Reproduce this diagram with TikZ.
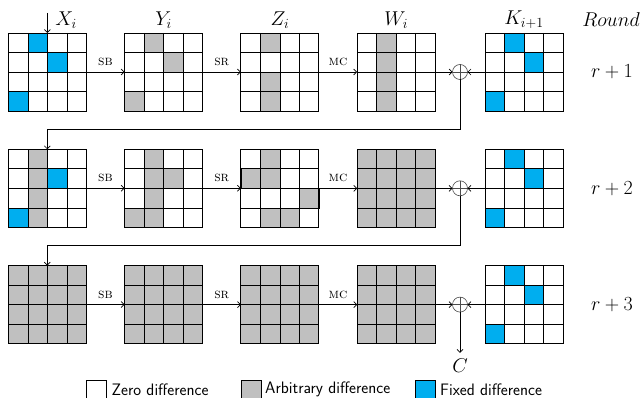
\RequirePackage{fix-cm}
\documentclass[tikz,border=0pt]{standalone}
\usepackage{fontspec}
\usetikzlibrary{calc,arrows.meta}
\definecolor{fixblue}{HTML}{00AEEF}
\definecolor{arbgray}{HTML}{C0C0C0}
\tikzset{
 gridbox/.style={draw, line width=0.9pt, minimum size=78pt, inner sep=0pt, outer sep=0pt},
 cellline/.style={line width=0.6pt},
 arr/.style={line width=0.7pt, -{Straight Barb[length=3pt,width=6pt]}},
 oplab/.style={font=\fontsize{14}{16}\selectfont\scshape, inner sep=0pt},
 mathlab/.style={font=\fontsize{20}{24}\selectfont, inner sep=0pt},
 xorc/.style={circle, draw=black!70, line width=0.6pt, minimum size=15pt, inner sep=0pt, outer sep=0pt},
 xorline/.style={draw=black!70, line width=0.6pt},
 legbox/.style={draw, line width=0.6pt, minimum size=20pt, inner sep=0pt},
 legtext/.style={font=\fontsize{16.6}{19}\selectfont\sffamily, anchor=west, inner sep=0pt}
}
\newcommand\gridat[4]{%
 \node[gridbox, fill=#4] (#1) at (#2+39,#3+39) {};
 \foreach \k in {1,2,3}{
   \draw[cellline] ($(#1.north west)+(\k*19.5,0)$) -- ($(#1.south west)+(\k*19.5,0)$);
   \draw[cellline] ($(#1.north west)+(0,\k*19.5)$) -- ($(#1.north east)+(0,\k*19.5)$);
 }}
\newcommand\cellfill[4]{%
 \draw[cellline, fill=#4] ($(#1.north west)+(#2*19.5,#3*19.5)$) rectangle ++(19.5,19.5);}
\newcommand\gridborder[1]{\draw[line width=0.9pt] (#1.north west) rectangle (#1.south east);}
\begin{document}
\begin{tikzpicture}[x=1pt,y=-1pt]
\useasboundingbox (0,0) rectangle (642,398);
% ---------- row 1 ----------
\gridat{x1}{8.3}{33}{white}
\foreach \c/\r in {1/0,2/1,0/3} {\cellfill{x1}{\c}{\r}{fixblue}}
\gridborder{x1}
\gridat{y1}{124.6}{33}{white}
\foreach \c/\r in {1/0,2/1,0/3} {\cellfill{y1}{\c}{\r}{arbgray}}
\gridborder{y1}
\gridat{z1}{240.9}{33}{white}
\foreach \c/\r in {1/0,1/2,1/3} {\cellfill{z1}{\c}{\r}{arbgray}}
\gridborder{z1}
\gridat{w1}{357.2}{33}{white}
\foreach \c/\r in {1/0,1/1,1/2,1/3} {\cellfill{w1}{\c}{\r}{arbgray}}
\gridborder{w1}
\gridat{k1}{485}{33}{white}
\foreach \c/\r in {1/0,2/1,0/3} {\cellfill{k1}{\c}{\r}{fixblue}}
\gridborder{k1}
% ---------- row 2 ----------
\gridat{x2}{8.3}{149.3}{white}
\foreach \c/\r in {1/0,1/1,1/2,1/3} {\cellfill{x2}{\c}{\r}{arbgray}}
\foreach \c/\r in {2/1,0/3} {\cellfill{x2}{\c}{\r}{fixblue}}
\gridborder{x2}
\gridat{y2}{124.6}{149.3}{white}
\foreach \c/\r in {1/0,1/1,1/2,1/3,2/1,0/3} {\cellfill{y2}{\c}{\r}{arbgray}}
\gridborder{y2}
\gridat{z2}{240.9}{149.3}{white}
\foreach \c/\r in {1/0,0/1,1/1,3/2,1/3,2/3} {\cellfill{z2}{\c}{\r}{arbgray}}
\gridborder{z2}
\gridat{w2}{357.2}{149.3}{arbgray}
\gridborder{w2}
\gridat{k2}{485}{149.3}{white}
\foreach \c/\r in {1/0,2/1,0/3} {\cellfill{k2}{\c}{\r}{fixblue}}
\gridborder{k2}
% ---------- row 3 ----------
\gridat{x3}{8.3}{265.6}{arbgray}
\gridborder{x3}
\gridat{y3}{124.6}{265.6}{arbgray}
\gridborder{y3}
\gridat{z3}{240.9}{265.6}{arbgray}
\gridborder{z3}
\gridat{w3}{357.2}{265.6}{arbgray}
\gridborder{w3}
\gridat{k3}{485}{265.6}{white}
\foreach \c/\r in {1/0,2/1,0/3} {\cellfill{k3}{\c}{\r}{fixblue}}
\gridborder{k3}
% ---------- XOR nodes ----------
\foreach \n/\yy in {o1/72, o2/188.3, o3/304.6}{
  \node[xorc] (\n) at (460,\yy) {};
  \draw[xorline] (\n.north) -- (\n.south) (\n.west) -- (\n.east);
}
% ---------- arrows ----------
\foreach \r in {1,2,3}{
  \draw[arr] (x\r.east) -- (y\r.west);
  \draw[arr] (y\r.east) -- (z\r.west);
  \draw[arr] (z\r.east) -- (w\r.west);
  \draw[arr] (w\r.east) -- (o\r.west);
  \draw[arr] (k\r.west) -- (o\r.east);
  \node[oplab] (sb\r) at ($(x\r.east)!0.5!(y\r.west)+(0,-10)$) {sb};
  \node[oplab] (sr\r) at ($(y\r.east)!0.5!(z\r.west)+(0,-10)$) {sr};
  \node[oplab] (mc\r) at ($(z\r.east)!0.5!(w\r.west)+(0,-10)$) {mc};
}
\coordinate (in) at (47.3,13);
\draw[arr] (in) -- (x1.north);
\draw[arr] (o1.south) |- ($(x2.north)+(0,-20)$) -- (x2.north);
\draw[arr] (o2.south) |- ($(x3.north)+(0,-20)$) -- (x3.north);
\node[mathlab] (C) at (460,366) {$C$};
\draw[arr] (o3.south) -- ($(C.north)+(0,-6)$);
% ---------- labels ----------
\node[mathlab] (lX) at (66,20) {$X_i$};
\node[mathlab] (lY) at (163.6,20) {$Y_i$};
\node[mathlab] (lZ) at (279.9,20) {$Z_i$};
\node[mathlab] (lW) at (396.2,20) {$W_i$};
\node[mathlab] (lK) at (524,20) {$K_{i+1}$};
\node[mathlab] (lR) at (611,20) {$Round$};
\node[mathlab] (r1) at (612,72) {$r+1$};
\node[mathlab] (r2) at (612,188.3) {$r+2$};
\node[mathlab] (r3) at (612,304.6) {$r+3$};
% ---------- legend ----------
\node[legbox, fill=white] (lb1) at (96,390) {};
\node[legtext] (lt1) at (111.5,389.5) {Zero difference};
\node[legbox, fill=arbgray] (lb2) at (251,390) {};
\node[legtext] (lt2) at (265,389.5) {Arbitrary difference};
\node[legbox, fill=fixblue] (lb3) at (425,390) {};
\node[legtext] (lt3) at (440,389.5) {Fixed difference};
\end{tikzpicture}
\end{document}
